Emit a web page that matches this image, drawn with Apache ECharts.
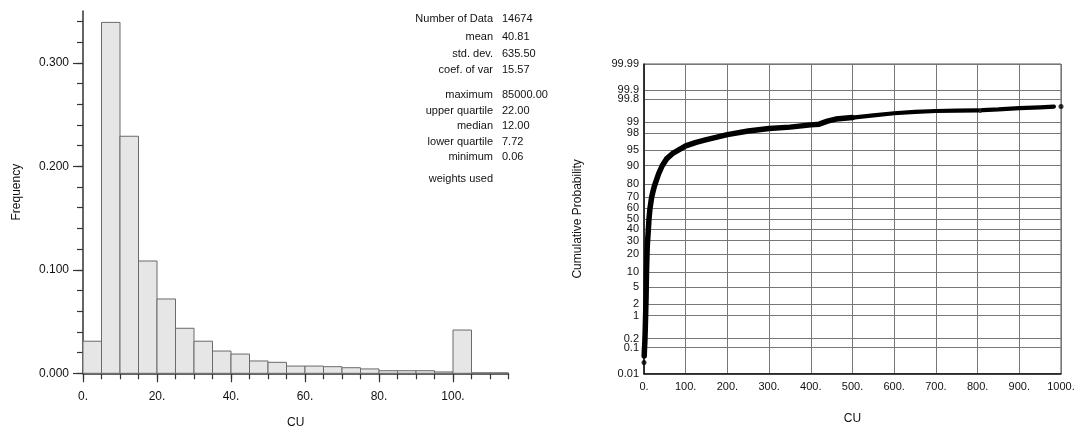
<!DOCTYPE html>
<html><head><meta charset="utf-8">
<script src="https://cdn.jsdelivr.net/npm/echarts@6/dist/echarts.min.js"></script>
<style>html,body{margin:0;padding:0;background:#fff}#c{width:1078px;height:430px}</style>
</head><body><div id="c"></div>
<script>
// ---------- Histogram data ----------
const binStarts = [0,5,10,15,20,25,30,35,40,45,50,55,60,65,70,75,80,85,90,95,100,105,110];
const binWidth = 5;
const frequencies = [0.031,0.339,0.229,0.1085,0.0718,0.0435,0.031,0.0215,0.0186,0.0119,0.0106,0.0070,0.0070,0.0064,0.0054,0.0042,0.0025,0.0025,0.0025,0.0013,0.0418,0.0005,0.0005];
const histXTicks = [0,5,10,15,20,25,30,35,40,45,50,55,60,65,70,75,80,85,90,95,100,105,110,115];
const histXLabels = [0,20,40,60,80,100];
const histYTicks = [0,0.02,0.04,0.06,0.08,0.10,0.12,0.14,0.16,0.18,0.20,0.22,0.24,0.26,0.28,0.30,0.32,0.34];
const histYLabels = [0,0.1,0.2,0.3];

// ---------- Summary statistics ----------
const statNames = ['Number of Data','mean','std. dev.','coef. of var','maximum','upper quartile','median','lower quartile','minimum','weights used'];
const statValues = ['14674','40.81','635.50','15.57','85000.00','22.00','12.00','7.72','0.06',''];

// ---------- Probability plot data (CU, cumulative %) ----------
const curveCU   = [0.5,1,2,3,4,5,6,7,7.72,9,10,12,14.4,18.4,22,25,30,35,44,54,70,100,125,150,200,250,300,350,400,420,440,460,500];
const curveProb = [0.05,0.08,0.15,0.4,1.2,3,10,18,25,32,37,50,60,70,75,78.5,82.5,86,90,92.5,94.3,96.0,96.7,97.15,97.85,98.25,98.49,98.62,98.8,98.85,99.05,99.17,99.25];
const tailCU    = [500,550,600,650,700,750,800];
const tailProb  = [99.25,99.35,99.44,99.49,99.52,99.53,99.54];
const curve2CU   = [812,850,900,950,983];
const curve2Prob = [99.55,99.57,99.61,99.63,99.65];
const dotCU   = [0.06,806,1000];
const dotProb = [0.028,99.54,99.65];
const probTickLabels = ['0.01','0.1','0.2','1','2','5','10','20','30','40','50','60','70','80','90','95','98','99','99.8','99.9','99.99'];
const cuAxisMax = 1000, cuAxisStep = 100;

// inverse standard normal CDF (probability-scale transform)
function normInv(p){
  const a=[-3.969683028665376e+01,2.209460984245205e+02,-2.759285104469687e+02,1.383577518672690e+02,-3.066479806614716e+01,2.506628277459239e+00];
  const b=[-5.447609879822406e+01,1.615858368580409e+02,-1.556989798598866e+02,6.680131188771972e+01,-1.328068155288572e+01];
  const c=[-7.784894002430293e-03,-3.223964580411365e-01,-2.400758277161838e+00,-2.549732539343734e+00,4.374664141464968e+00,2.938163982698783e+00];
  const d=[7.784695709041462e-03,3.224671290700398e-01,2.445134137142996e+00,3.754408661907416e+00];
  const pl=0.02425, ph=1-pl; let q,r;
  if(p<pl){q=Math.sqrt(-2*Math.log(p));return (((((c[0]*q+c[1])*q+c[2])*q+c[3])*q+c[4])*q+c[5])/((((d[0]*q+d[1])*q+d[2])*q+d[3])*q+1);}
  if(p<=ph){q=p-0.5;r=q*q;return (((((a[0]*r+a[1])*r+a[2])*r+a[3])*r+a[4])*r+a[5])*q/(((((b[0]*r+b[1])*r+b[2])*r+b[3])*r+b[4])*r+1);}
  q=Math.sqrt(-2*Math.log(1-p));return -(((((c[0]*q+c[1])*q+c[2])*q+c[3])*q+c[4])*q+c[5])/((((d[0]*q+d[1])*q+d[2])*q+d[3])*q+1);
}
const z = pct => normInv(pct/100);
const zTicks = probTickLabels.map(s => z(parseFloat(s)));
const zMin = zTicks[0], zMax = zTicks[zTicks.length-1];

const FONT = 'Liberation Sans';
const TXT = '#111';
const chart = echarts.init(document.getElementById('c'));

const statRowY = [18.5,37,53.5,70,95,111,126,141.5,157,179];
const graphics = [];
statNames.forEach((n,i)=>{
  graphics.push({type:'text', x:493, y:statRowY[i], style:{text:n, x:0, y:0, align:'right', verticalAlign:'middle', font:'11px "'+FONT+'"', fill:TXT}});
  if(statValues[i]) graphics.push({type:'text', x:502, y:statRowY[i], style:{text:statValues[i], x:0, y:0, align:'left', verticalAlign:'middle', font:'11px "'+FONT+'"', fill:TXT}});
});

const axisLineDark = {show:true, onZero:false, lineStyle:{color:'#333', width:1.5}};
const lineSeries = (xs, ps, w) => ({type:'line', xAxisIndex:2, yAxisIndex:2, showSymbol:false, smooth:false,
  lineStyle:{color:'#000', width:w, cap:'round', join:'round'}, data: xs.map((c,i)=>[c, z(ps[i])])});

chart.setOption({
  animation:false,
  textStyle:{fontFamily:FONT},
  grid:[
    {left:83, right:569.5, top:11, bottom:56.7, outerBoundsMode:'none', containLabel:false},
    {left:644, right:17, top:64, bottom:56.3, show:true, borderColor:'#555', borderWidth:1, outerBoundsMode:'none', containLabel:false}
  ],
  xAxis:[
    {gridIndex:0, type:'value', min:0, max:115, position:'bottom',
     axisLine:axisLineDark,
     axisTick:{show:true, length:6, lineStyle:{color:'#333', width:1.2}, customValues:histXTicks},
     axisLabel:{customValues:histXLabels, formatter:v=>v+'.', fontSize:12, color:TXT, margin:17, hideOverlap:false},
     splitLine:{show:false},
     name:'CU', nameLocation:'middle', nameGap:43, nameMoveOverlap:false, nameTextStyle:{fontSize:12, color:TXT}},
    {gridIndex:0, type:'value', min:0, max:115, position:'bottom', offset:0,
     axisLine:{show:false, onZero:false}, axisTick:{show:true, length:9, lineStyle:{color:'#333', width:1.2}, customValues:histXLabels},
     axisLabel:{show:false}, splitLine:{show:false}},
    {gridIndex:1, type:'value', min:0, max:cuAxisMax, interval:cuAxisStep, position:'bottom',
     axisLine:{show:true, onZero:false, lineStyle:{color:'#111', width:1.5}}, axisTick:{show:false},
     axisLabel:{formatter:v=>v+'.', fontSize:11, color:TXT, margin:8, hideOverlap:false},
     splitLine:{show:true, lineStyle:{color:'#777', width:1}},
     name:'CU', nameLocation:'middle', nameGap:39, nameMoveOverlap:false, nameTextStyle:{fontSize:12, color:TXT}}
  ],
  yAxis:[
    {gridIndex:0, type:'value', min:0, max:0.35, position:'left',
     axisLine:axisLineDark,
     axisTick:{show:true, length:6, lineStyle:{color:'#333', width:1.2}, customValues:histYTicks},
     axisLabel:{customValues:histYLabels, formatter:v=>v.toFixed(3), fontSize:12, color:TXT, margin:14, hideOverlap:false},
     splitLine:{show:false},
     name:'Frequency', nameLocation:'middle', nameGap:60, nameMoveOverlap:false, nameTextStyle:{fontSize:12, color:TXT}},
    {gridIndex:0, type:'value', min:0, max:0.35, position:'left', offset:0,
     axisLine:{show:false, onZero:false}, axisTick:{show:true, length:10, lineStyle:{color:'#333', width:1.2}, customValues:histYLabels},
     axisLabel:{show:false}, splitLine:{show:false}},
    {gridIndex:1, type:'value', min:zMin, max:zMax, position:'left',
     axisLine:{show:true, onZero:false, lineStyle:{color:'#111', width:1.5}},
     axisTick:{show:false, customValues:zTicks},
     axisLabel:{customValues:zTicks, fontSize:11, color:TXT, margin:5, hideOverlap:false, showMinLabel:true, showMaxLabel:true,
       formatter:v=>{let bi=0,bd=1e9; zTicks.forEach((t,i)=>{const dd=Math.abs(t-v); if(dd<bd){bd=dd;bi=i;}}); return probTickLabels[bi];}},
     splitLine:{show:true, lineStyle:{color:'#777', width:1}},
     name:'Cumulative Probability', nameLocation:'middle', nameGap:60, nameMoveOverlap:false, nameTextStyle:{fontSize:12, color:TXT}}
  ],
  series:[
    {type:'custom', xAxisIndex:0, yAxisIndex:0,
     data: binStarts.map((s,i)=>[s, s+binWidth, frequencies[i]]),
     encode:{x:[0,1], y:2},
     renderItem:(params, api)=>{
       const p0 = api.coord([api.value(0), api.value(2)]);
       const p1 = api.coord([api.value(1), 0]);
       return {type:'rect', shape:{x:p0[0], y:p0[1], width:p1[0]-p0[0], height:p1[1]-p0[1]},
               style:{fill:'#e6e6e6', stroke:'#6a6a6a', lineWidth:1}};
     }},
    lineSeries(curveCU, curveProb, 5.5),
    lineSeries(tailCU, tailProb, 4.2),
    lineSeries(curve2CU, curve2Prob, 4.2),
    {type:'scatter', xAxisIndex:2, yAxisIndex:2, symbolSize:5, itemStyle:{color:'#000'},
     data: dotCU.map((c,i)=>[c, z(dotProb[i])])}
  ],
  graphic: graphics
});
</script></body></html>
